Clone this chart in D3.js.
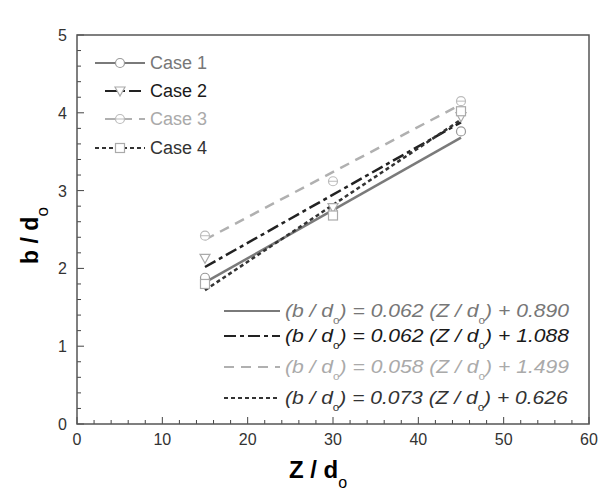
<!DOCTYPE html>
<html>
<head>
<meta charset="utf-8">
<script src="https://cdn.jsdelivr.net/npm/d3@7"></script>
<style>
  body { margin: 0; background: #fff; }
  text { font-family: "Liberation Sans", Arial, sans-serif; }
</style>
</head>
<body>
<div id="chart"></div>
<script>
// data
var caseNames = ["Case 1", "Case 2", "Case 3", "Case 4"];
var zValues = [15, 30, 45];
var case1 = [1.88, 2.72, 3.76];
var case2 = [2.13, 2.78, 3.95];
var case3 = [2.42, 3.12, 4.15];
var case4 = [1.80, 2.68, 4.02];
var slopes = [0.062, 0.062, 0.058, 0.073];
var intercepts = [0.890, 1.088, 1.499, 0.626];
var xTicks = [0, 10, 20, 30, 40, 50, 60];
var yTicks = [0, 1, 2, 3, 4, 5];

(() => {
    var margin = { top: 35, right: 16, bottom: 71, left: 77 },
        width = 605 - margin.left - margin.right,
        height = 495 - margin.top - margin.bottom;

    var svg = d3.select("#chart").append("svg")
        .attr("width", 605).attr("height", 495)
        .append("g")
        .attr("transform", "translate(" + margin.left + "," + margin.top + ")");

    var x = d3.scaleLinear().domain([0, 60]).range([0, width]);
    var y = d3.scaleLinear().domain([0, 5]).range([height, 0]);

    var series = [case1, case2, case3, case4];
    var colors = ["#7a7a7a", "#222", "#b0b0b0", "#333"];
    var dashes = [null, "12,4,4,4", "10,7", "4,3"];
    var textColors = ["#777", "#1a1a1a", "#aaa", "#333"];
    var markerStroke = ["#999", "#aaa", "#bbb", "#aaa"];

    // minor ticks (inside)
    var g = svg.append("g");
    d3.range(0, 60.01, 2).forEach(function (v) {
        var big = v % 10 === 0;
        g.append("line").attr("x1", x(v)).attr("x2", x(v))
            .attr("y1", height).attr("y2", height - (big ? 7 : 4))
            .attr("stroke", "#444").attr("stroke-width", 1);
    });
    d3.range(0, 5.01, 0.2).forEach(function (v) {
        var big = Math.abs(v - Math.round(v)) < 1e-6;
        g.append("line").attr("y1", y(v)).attr("y2", y(v))
            .attr("x1", 0).attr("x2", big ? 7 : 4)
            .attr("stroke", "#444").attr("stroke-width", 1);
    });

    svg.append("rect").attr("width", width).attr("height", height)
        .attr("fill", "none").attr("stroke", "#555").attr("stroke-width", 1.5);

    svg.selectAll(".xt").data(xTicks).enter().append("text")
        .attr("x", function (d) { return x(d); }).attr("y", height + 21)
        .attr("text-anchor", "middle").style("font-size", "16px").attr("fill", "#333")
        .text(function (d) { return d; });
    svg.selectAll(".yt").data(yTicks).enter().append("text")
        .attr("x", -10).attr("y", function (d) { return y(d) + 6; })
        .attr("text-anchor", "end").style("font-size", "16px").attr("fill", "#333")
        .text(function (d) { return d; });

    // axis titles
    var xl = svg.append("text").attr("x", width / 2 - 15).attr("y", height + 54)
        .attr("text-anchor", "middle").style("font-size", "24px").style("font-weight", "bold");
    xl.append("tspan").text("Z / d");
    xl.append("tspan").attr("dy", 10).style("font-size", "16px").style("font-weight", "normal").text("o");

    var yl = svg.append("text")
        .attr("transform", "translate(-39," + (height / 2 + 6) + ") rotate(-90)")
        .attr("text-anchor", "middle").style("font-size", "23px").style("font-weight", "bold");
    yl.append("tspan").text("b / d");
    yl.append("tspan").attr("dy", 10).style("font-size", "17px").style("font-weight", "normal").text("o");

    // fit lines
    slopes.forEach(function (s, i) {
        svg.append("line")
            .attr("x1", x(15)).attr("y1", y(s * 15 + intercepts[i]))
            .attr("x2", x(45)).attr("y2", y(s * 45 + intercepts[i]))
            .attr("stroke", colors[i]).attr("stroke-width", 2.5)
            .attr("stroke-dasharray", dashes[i]);
    });

    function marker(sel, i, cx, cy) {
        var st = markerStroke[i];
        if (i === 0 || i === 2) {
            sel.append("circle").attr("cx", cx).attr("cy", cy).attr("r", 4.5)
                .attr("fill", "#fff").attr("stroke", st).attr("stroke-width", 1.2);
            if (i === 2) sel.append("line").attr("x1", cx - 4.5).attr("x2", cx + 4.5)
                .attr("y1", cy).attr("y2", cy).attr("stroke", st);
        } else if (i === 1) {
            sel.append("path")
                .attr("d", "M" + (cx - 5) + "," + (cy - 4) + "L" + (cx + 5) + "," + (cy - 4) + "L" + cx + "," + (cy + 5) + "Z")
                .attr("fill", "#fff").attr("stroke", st).attr("stroke-width", 1.2);
        } else {
            sel.append("rect").attr("x", cx - 4.5).attr("y", cy - 4.5).attr("width", 9).attr("height", 9)
                .attr("fill", "#fff").attr("stroke", st).attr("stroke-width", 1.2);
        }
    }

    series.forEach(function (vals, i) {
        vals.forEach(function (v, j) {
            marker(svg, i, x(zValues[j]), y(v));
        });
    });

    // top-left legend
    var legY = [28, 56, 84, 113];
    var legX0 = [18, 28, 28, 18];
    caseNames.forEach(function (name, i) {
        var ly = legY[i];
        svg.append("line").attr("x1", legX0[i]).attr("x2", 68).attr("y1", ly).attr("y2", ly)
            .attr("stroke", colors[i]).attr("stroke-width", 2).attr("stroke-dasharray", dashes[i]);
        marker(svg, i, 43, ly);
        svg.append("text").attr("x", 73).attr("y", ly + 6)
            .style("font-size", "18px").attr("fill", textColors[i]).text(name);
    });

    // equation legend
    var eqY = [276, 301, 332, 363];
    slopes.forEach(function (s, i) {
        var ly = eqY[i];
        svg.append("line").attr("x1", 147).attr("x2", 203).attr("y1", ly).attr("y2", ly)
            .attr("stroke", colors[i]).attr("stroke-width", 2).attr("stroke-dasharray", dashes[i]);
        var t = svg.append("text").attr("x", 0).attr("y", 0)
            .style("font-size", "18px").style("font-style", "italic").attr("fill", textColors[i]);
        t.append("tspan").text("(b / d");
        t.append("tspan").attr("dx", 0).attr("dy", 7).style("font-size", "10px").style("font-style", "normal").text("o");
        t.append("tspan").attr("dy", -7).text(") = " + s.toFixed(3) + " (Z / d");
        t.append("tspan").attr("dx", 0).attr("dy", 7).style("font-size", "10px").style("font-style", "normal").text("o");
        t.append("tspan").attr("dy", -7).text(") + " + intercepts[i].toFixed(3));
        var w = t.node().getBBox().width;
        var sx = 284 / w;
        t.attr("transform", "translate(208," + (ly + 6) + ") scale(" + sx + ",1)");
    });
})();
</script>
</body>
</html>
